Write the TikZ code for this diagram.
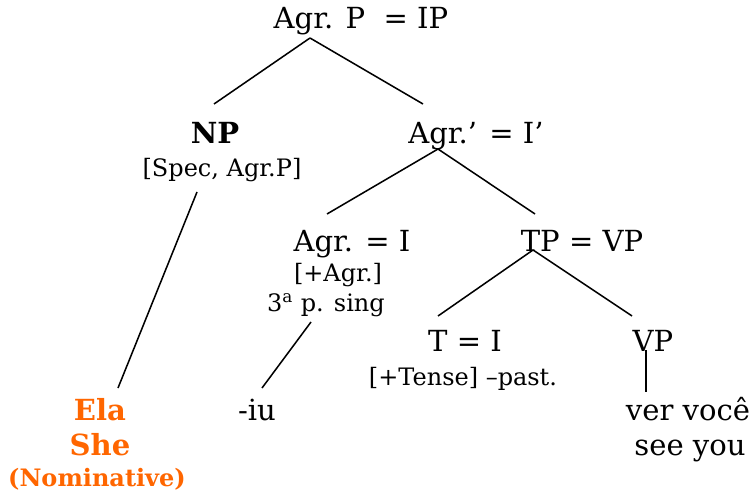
\documentclass[tikz,border=0pt]{standalone}
\usepackage{fontspec}
\setmainfont{DejaVu Serif}
\definecolor{ora}{HTML}{FF6600}
\begin{document}
\begin{tikzpicture}[x=0.75pt,y=-0.75pt,
  lab/.style={inner sep=0pt,anchor=base,font=\fontsize{21.8}{26}\selectfont},
  sub/.style={inner sep=0pt,anchor=base,font=\fontsize{18}{22}\selectfont},
  orn/.style={inner sep=0pt,anchor=base,text=ora,font=\bfseries\fontsize{21.8}{26}\selectfont},
  edge/.style={line width=1.15pt}]
\useasboundingbox (0,0) rectangle (755,495);
% nodes
\node[lab] (ip) at (361,29) {Agr. P\ \ = IP};
\node[lab,font=\bfseries\fontsize{21.8}{26}\selectfont] (np) at (215,144) {NP};
\node[sub] (spec) at (222,176) {[Spec, Agr.P]};
\node[lab] (agrbar) at (476,144) {Agr.’ = I’};
\node[lab] (agr) at (352,251) {Agr. = I};
\node[sub] (plusagr) at (338,281) {[+Agr.]};
\node[sub] (third) at (326,311) {3\textsuperscript{a} p. sing};
\node[lab] (tp) at (582,251) {TP = VP};
\node[lab] (t) at (465,351) {T = I};
\node[sub] (tense) at (463,385) {[+Tense] –past.};
\node[lab] (vp) at (653,351) {VP};
\node[lab] (iu) at (257,420) {-iu};
\node[lab] (ver) at (688,420) {ver você};
\node[lab] (see) at (690,455) {see you};
\node[orn] (ela) at (100,420) {Ela};
\node[orn] (she) at (100,455) {She};
\node[orn,font=\bfseries\fontsize{18}{22}\selectfont] (nom) at (97,486) {(Nominative)};
% connector ends
\coordinate (ipB) at (310,38);
\coordinate (npT) at (214,104);
\coordinate (abT) at (423,104);
\coordinate (abB) at (438,149);
\coordinate (agrT) at (327,214);
\coordinate (tpT) at (535,214);
\coordinate (specB) at (197,192);
\coordinate (elaT) at (118,388);
\coordinate (tpB) at (533,250);
\coordinate (tT) at (438,316);
\coordinate (vpT) at (632,316);
\coordinate (thB) at (311,322);
\coordinate (iuT) at (262,388);
\coordinate (vpB) at (646,350);
\coordinate (verT) at (646,392);
% connectors
\draw[edge] (ipB) -- (npT);
\draw[edge] (ipB) -- (abT);
\draw[edge] (abB) -- (agrT);
\draw[edge] (abB) -- (tpT);
\draw[edge] (specB) -- (elaT);
\draw[edge] (tpB) -- (tT);
\draw[edge] (tpB) -- (vpT);
\draw[edge] (thB) -- (iuT);
\draw[edge] (vpB) -- (verT);
\end{tikzpicture}
\end{document}
